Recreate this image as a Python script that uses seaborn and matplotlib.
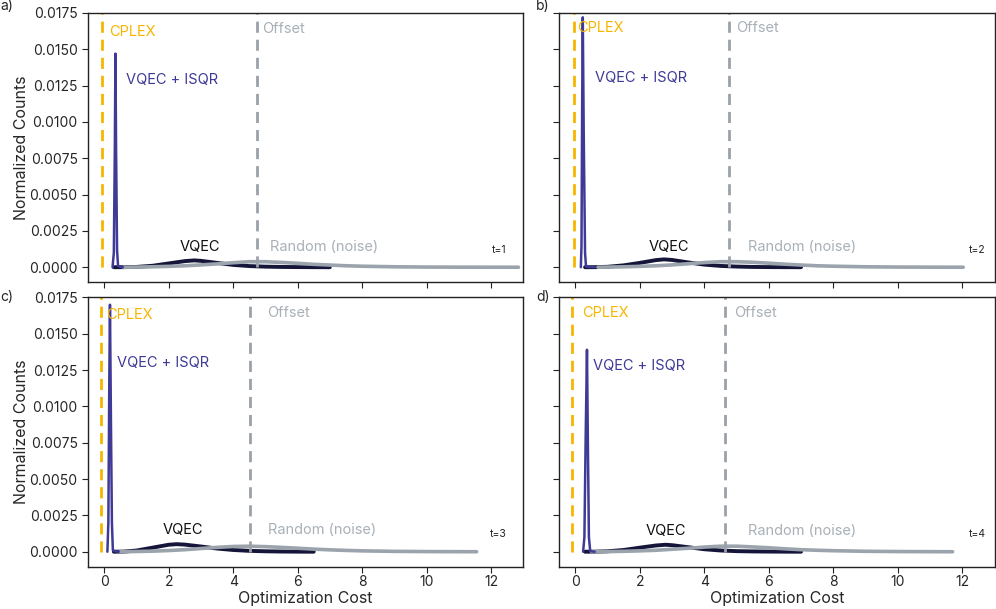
import pandas as pd
import numpy as np
import matplotlib
matplotlib.use("Agg")
import matplotlib.pyplot as plt
import seaborn as sns

# ----------------------------------------------------------------------------
# Podaci (y vrijednosti u jedinicama 1e-4)
panel_letters = ["a)", "b)", "c)", "d)"]
t_labels = ["t=1", "t=2", "t=3", "t=4"]

cplex_x = [-0.07, -0.05, -0.11, -0.10]
offset_x = [4.73, 4.76, 4.53, 4.63]

# VQEC + ISQR (uski vrh)
isqr_x_a = [0.26, 0.30, 0.33, 0.35, 0.37, 0.40, 0.43, 0.50, 0.58]
isqr_y_a = [0.0, 10.0, 80.0, 147.0, 80.0, 12.0, 1.0, 0.3, 0.0]
isqr_x_b = [0.17, 0.19, 0.21, 0.23, 0.26, 0.30, 0.33, 0.45, 0.60]
isqr_y_b = [0.0, 15.0, 110.0, 172.0, 90.0, 10.0, 0.5, 0.2, 0.0]
isqr_x_c = [0.10, 0.13, 0.16, 0.18, 0.21, 0.24, 0.27, 0.35, 0.45]
isqr_y_c = [0.0, 20.0, 120.0, 170.0, 90.0, 20.0, 1.0, 0.3, 0.0]
isqr_x_d = [0.24, 0.28, 0.32, 0.36, 0.39, 0.42, 0.46, 0.52, 0.60]
isqr_y_d = [0.0, 10.0, 80.0, 139.0, 70.0, 10.0, 0.5, 0.2, 0.0]

# VQEC
vqec_x_a = [0.3, 0.6, 1.0, 1.5, 2.0, 2.5, 2.8, 3.0, 3.5, 4.0, 4.5, 5.0, 5.5, 6.0, 6.5, 7.0]
vqec_y_a = [0.0, 0.05, 0.2, 1.0, 2.6, 4.2, 4.7, 4.4, 3.0, 1.6, 0.8, 0.4, 0.2, 0.1, 0.04, 0.0]
vqec_x_b = [0.3, 0.6, 1.0, 1.5, 2.0, 2.5, 2.75, 3.0, 3.5, 4.0, 4.5, 5.0, 5.5, 6.0, 6.5, 7.0]
vqec_y_b = [0.0, 0.05, 0.3, 1.3, 3.0, 4.9, 5.4, 5.0, 3.3, 1.8, 0.9, 0.45, 0.2, 0.1, 0.04, 0.0]
vqec_x_c = [0.3, 0.6, 1.0, 1.5, 2.0, 2.25, 2.5, 3.0, 3.5, 4.0, 4.5, 5.0, 5.5, 6.0, 6.5]
vqec_y_c = [0.0, 0.1, 0.8, 2.8, 4.8, 5.2, 4.9, 3.6, 2.2, 1.2, 0.6, 0.3, 0.12, 0.05, 0.0]
vqec_x_d = [0.3, 0.6, 1.0, 1.5, 2.0, 2.5, 2.8, 3.0, 3.5, 4.0, 4.5, 5.0, 5.5, 6.0, 6.5, 7.0]
vqec_y_d = [0.0, 0.05, 0.3, 1.2, 2.8, 4.3, 4.8, 4.5, 3.1, 1.7, 0.85, 0.4, 0.2, 0.1, 0.04, 0.0]

# Random (noise)
rand_x_a = [0.6, 1.0, 1.5, 2.0, 2.5, 3.0, 3.5, 4.0, 4.5, 5.0, 5.5, 6.0, 6.5, 7.0, 7.5, 8.0, 9.0, 10.0, 11.0, 12.0, 12.85]
rand_y_a = [0.0, 0.1, 0.3, 0.6, 1.0, 1.6, 2.3, 3.1, 3.8, 3.8, 3.3, 2.7, 2.0, 1.5, 1.0, 0.7, 0.3, 0.12, 0.05, 0.02, 0.0]
rand_x_b = [0.7, 1.0, 1.5, 2.0, 2.5, 3.0, 3.5, 4.0, 4.5, 5.0, 5.5, 6.0, 6.5, 7.0, 7.5, 8.0, 9.0, 10.0, 11.0, 12.03]
rand_y_b = [0.0, 0.1, 0.3, 0.6, 1.0, 1.6, 2.4, 3.2, 3.8, 3.8, 3.4, 2.8, 2.1, 1.5, 1.0, 0.7, 0.3, 0.12, 0.05, 0.0]
rand_x_c = [0.5, 1.0, 1.5, 2.0, 2.5, 3.0, 3.5, 4.0, 4.5, 5.0, 5.5, 6.0, 6.5, 7.0, 7.5, 8.0, 9.0, 10.0, 11.0, 11.55]
rand_y_c = [0.0, 0.15, 0.4, 0.8, 1.4, 2.2, 3.0, 3.6, 3.8, 3.5, 3.0, 2.4, 1.8, 1.3, 0.9, 0.6, 0.25, 0.1, 0.03, 0.0]
rand_x_d = [0.5, 1.0, 1.5, 2.0, 2.5, 3.0, 3.5, 4.0, 4.5, 5.0, 5.5, 6.0, 6.5, 7.0, 7.5, 8.0, 9.0, 10.0, 11.0, 11.7]
rand_y_d = [0.0, 0.1, 0.3, 0.6, 1.0, 1.7, 2.4, 3.2, 3.8, 3.8, 3.3, 2.7, 2.0, 1.4, 1.0, 0.7, 0.3, 0.12, 0.04, 0.0]

# Pozicije natpisa
cplex_text = [(0.15, 0.0162), (0.04, 0.0165), (0.05, 0.0163), (0.20, 0.0164)]
offset_text = [(4.90, 0.0164), (5.00, 0.0165), (5.04, 0.0164), (4.92, 0.0164)]
isqr_text = [(0.67, 0.0129), (0.60, 0.0130), (0.40, 0.0130), (0.54, 0.0128)]
vqec_text = [(2.96, 0.0014), (2.90, 0.0014), (2.44, 0.0015), (2.80, 0.0014)]
rand_text = [(5.13, 0.0014), (5.35, 0.0014), (5.07, 0.0015), (5.34, 0.0014)]
t_text = [(12.25, 0.0012), (12.45, 0.0012), (12.22, 0.0012), (12.46, 0.0012)]

isqr_curves = [(isqr_x_a, isqr_y_a), (isqr_x_b, isqr_y_b), (isqr_x_c, isqr_y_c), (isqr_x_d, isqr_y_d)]
vqec_curves = [(vqec_x_a, vqec_y_a), (vqec_x_b, vqec_y_b), (vqec_x_c, vqec_y_c), (vqec_x_d, vqec_y_d)]
rand_curves = [(rand_x_a, rand_y_a), (rand_x_b, rand_y_b), (rand_x_c, rand_y_c), (rand_x_d, rand_y_d)]

# Boje
c_cplex = "#F7B500"
c_isqr = "#3F3A96"
c_vqec = "#15153A"
c_rand = "#9BA3AC"
c_offset = "#9AA1A9"
c_text_gray = "#A9B0B7"

# ----------------------------------------------------------------------------
sns.set_style("ticks")
plt.rcParams['font.family'] = ['Inter', 'DejaVu Sans']
plt.rcParams['axes.edgecolor'] = "#222222"
plt.rcParams['axes.linewidth'] = 1.0

fig, axes = plt.subplots(2, 2, figsize=(9.96, 6.09), dpi=100, sharex=True, sharey=True)
fig.subplots_adjust(left=0.0884, right=0.9985, top=0.9787, bottom=0.069,
                    wspace=0.0826, hspace=0.0556)

for i, ax in enumerate(axes.flat):
    vx, vy = vqec_curves[i]
    rx, ry = rand_curves[i]
    ix, iy = isqr_curves[i]
    df_v = pd.DataFrame({"cost": vx, "counts": np.array(vy) * 1e-4})
    df_r = pd.DataFrame({"cost": rx, "counts": np.array(ry) * 1e-4})
    df_i = pd.DataFrame({"cost": ix, "counts": np.array(iy) * 1e-4})

    sns.lineplot(data=df_v, x="cost", y="counts", ax=ax, color=c_vqec,
                 linewidth=2.8, estimator=None, sort=False)
    sns.lineplot(data=df_r, x="cost", y="counts", ax=ax, color=c_rand,
                 linewidth=2.6, estimator=None, sort=False)
    sns.lineplot(data=df_i, x="cost", y="counts", ax=ax, color=c_isqr,
                 linewidth=1.8, estimator=None, sort=False)

    ax.vlines(cplex_x[i], 0, 0.0175, colors=c_cplex, linestyles=(0, (4, 2.5)), linewidth=2)
    ax.vlines(offset_x[i], 0, 0.0175, colors=c_offset, linestyles=(0, (4, 2.5)), linewidth=2)

    ax.text(*cplex_text[i], "CPLEX", color=c_cplex, fontsize=10.5, va="center", ha="left")
    ax.text(*offset_text[i], "Offset", color=c_text_gray, fontsize=10.5, va="center", ha="left")
    ax.text(*isqr_text[i], "VQEC + ISQR", color=c_isqr, fontsize=10.5, va="center", ha="left")
    ax.text(*vqec_text[i], "VQEC", color="#111111", fontsize=10.5, va="center", ha="center")
    ax.text(*rand_text[i], "Random (noise)", color=c_text_gray, fontsize=10.5, va="center", ha="left")
    ax.text(*t_text[i], t_labels[i], color="#222222", fontsize=7.5, va="center", ha="center")

    ax.set_xlim(-0.5, 13.0)
    ax.set_ylim(-0.00105, 0.0175)
    ax.set_xticks([0, 2, 4, 6, 8, 10, 12])
    ax.set_yticks([0, 0.0025, 0.005, 0.0075, 0.01, 0.0125, 0.015, 0.0175])
    ax.tick_params(labelsize=10, length=4, color="#222222")
    ax.tick_params(axis="x", pad=2)
    ax.yaxis.set_major_formatter(matplotlib.ticker.FormatStrFormatter("%.4f"))

    ax.set_xlabel("Optimization Cost" if i >= 2 else "", fontsize=11.5, labelpad=1)
    ax.set_ylabel("Normalized Counts" if i % 2 == 0 else "", fontsize=11.5, labelpad=0)

# Oznake panela
fig.text(0.0, 0.99, panel_letters[0], fontsize=10, va="center", ha="left")
fig.text(0.538, 0.99, panel_letters[1], fontsize=10, va="center", ha="left")
fig.text(0.0, 0.513, panel_letters[2], fontsize=10, va="center", ha="left")
fig.text(0.538, 0.513, panel_letters[3], fontsize=10, va="center", ha="left")

plt.savefig("out.png", dpi=100)
plt.close()
